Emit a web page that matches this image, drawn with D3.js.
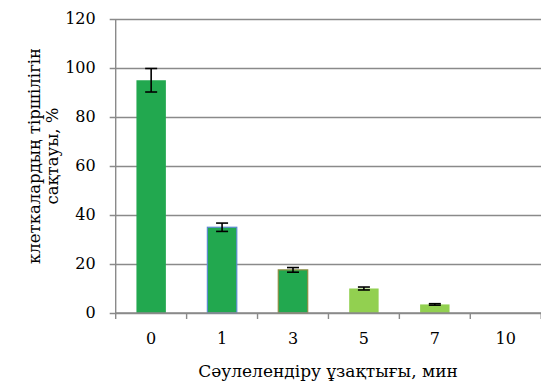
<!DOCTYPE html>
<html>
<head>
<meta charset="utf-8">
<script src="https://cdn.jsdelivr.net/npm/d3@7"></script>
<style>
  html, body { margin: 0; padding: 0; background: #fff; }
  svg { display: block; }
</style>
</head>
<body>
<svg id="chart" width="541" height="383"></svg>
<script>
const categories = ["0", "1", "3", "5", "7", "10"];
const values = [95, 35, 17.6, 10, 3.5, 0];
const errors = [4.8, 1.7, 0.95, 0.6, 0.3, 0];
const fillColors = ["#22A84F", "#22A84F", "#22A84F", "#92D050", "#92D050", "#92D050"];
const strokeColors = ["none", "#5B8BD0", "#8C8C40", "none", "none", "none"];
const yTicks = [0, 20, 40, 60, 80, 100, 120];
const xTitle = "Сәулелендіру ұзақтығы, мин";
const yTitleLines = ["клеткалардың тіршілігін", "сақтауы, %"];

(function () {
const FONT = "DejaVu Serif";
const svg = d3.select("#chart");
const pL = 115.7, pR = 541.2, pT = 19, pB = 313;

const y = d3.scaleLinear().domain([0, 120]).range([pB, pT]);
const x = d3.scaleBand().domain(categories).range([pL, pR])
  .paddingInner(0.585).paddingOuter(0.2925);
const xb = d3.scaleBand().domain(categories).range([pL, pR]).padding(0);

const grid = "#8a8a8a";

const yAxis = d3.axisLeft(y).tickValues(yTicks).tickSize(-(pR - pL)).tickSizeOuter(0).tickPadding(20);
const gy = svg.append("g").attr("transform", `translate(${pL},0)`).call(yAxis)
  .attr("font-family", FONT).attr("font-size", 16);
gy.select(".domain").remove();
gy.selectAll(".tick line").attr("stroke", grid).attr("stroke-width", 1.4).attr("x1", -6);
gy.selectAll(".tick text").attr("fill", "#000").attr("dy", "0.3em");

svg.append("line").attr("x1", pL).attr("x2", pL).attr("y1", pT).attr("y2", pB)
  .attr("stroke", grid).attr("stroke-width", 1.4);

svg.append("g").selectAll("rect").data(categories).join("rect")
  .attr("x", d => x(d))
  .attr("width", x.bandwidth())
  .attr("y", (d, i) => y(values[i]))
  .attr("height", (d, i) => y(0) - y(values[i]))
  .attr("fill", (d, i) => fillColors[i])
  .attr("stroke", (d, i) => strokeColors[i])
  .attr("stroke-width", 1.2);

const xAxis = d3.axisBottom(xb).tickSize(0).tickPadding(20);
const gx = svg.append("g").attr("transform", `translate(0,${pB})`).call(xAxis)
  .attr("font-family", FONT).attr("font-size", 16);
gx.select(".domain").remove();
gx.selectAll(".tick text").attr("fill", "#000");
svg.append("line").attr("x1", pL).attr("x2", pR).attr("y1", pB).attr("y2", pB)
  .attr("stroke", grid).attr("stroke-width", 1.4);
const boundaries = categories.map(c => xb(c)).concat([pR]);
svg.append("g").selectAll("line").data(boundaries).join("line")
  .attr("x1", d => d).attr("x2", d => d).attr("y1", pB).attr("y2", pB + 6)
  .attr("stroke", grid).attr("stroke-width", 1.4);

const eg = svg.append("g").attr("stroke", "#000").attr("stroke-width", 1.6);
categories.forEach((c, i) => {
  if (values[i] === 0) return;
  const cx = x(c) + x.bandwidth() / 2;
  const y1 = y(values[i] + errors[i]), y2 = y(values[i] - errors[i]);
  eg.append("line").attr("x1", cx).attr("x2", cx).attr("y1", y1).attr("y2", y2);
  eg.append("line").attr("x1", cx - 6).attr("x2", cx + 6).attr("y1", y1).attr("y2", y1);
  eg.append("line").attr("x1", cx - 6).attr("x2", cx + 6).attr("y1", y2).attr("y2", y2);
});

svg.append("text").attr("x", 328).attr("y", 377).attr("text-anchor", "middle")
  .attr("font-family", FONT).attr("font-size", 17).attr("fill", "#000").text(xTitle);

const yt = svg.append("text").attr("transform", "translate(0,156) rotate(-90)")
  .attr("text-anchor", "middle").attr("font-family", FONT).attr("font-size", 16.5).attr("fill", "#000");
yt.append("tspan").attr("x", 0).attr("y", 40).text(yTitleLines[0]);
yt.append("tspan").attr("x", 0).attr("y", 58).text(yTitleLines[1]);
})();
</script>
</body>
</html>
